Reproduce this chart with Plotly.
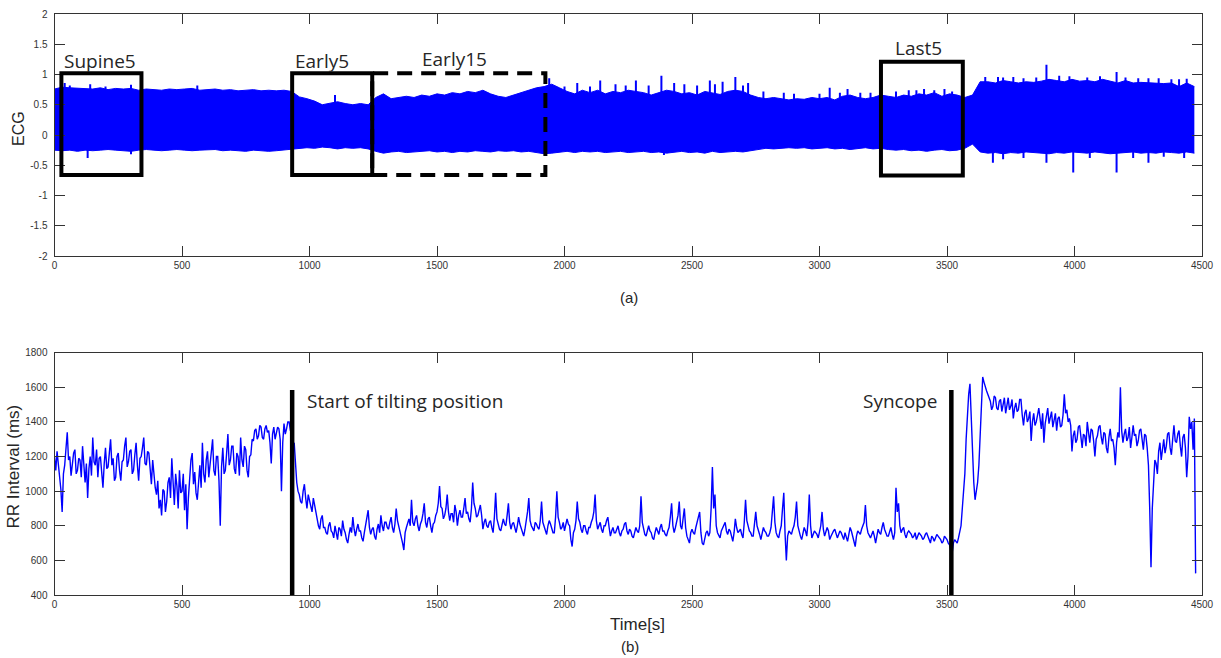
import plotly.graph_objects as go

# ---------------------------------------------------------------------------
# ECG trace (panel a): amplitude envelope sampled every 30 s
# ---------------------------------------------------------------------------
ECG_T_STEP = 30
ECG_UPPER = [
    0.76, 0.79, 0.78, 0.77, 0.76, 0.76, 0.78, 0.75, 0.77, 0.76,
    0.77, 0.74, 0.76, 0.75, 0.74, 0.76, 0.75, 0.76, 0.77, 0.74,
    0.75, 0.76, 0.74, 0.75, 0.73, 0.74, 0.75, 0.73, 0.74, 0.73,
    0.74, 0.72, 0.63, 0.60, 0.56, 0.50, 0.53, 0.55, 0.52, 0.50,
    0.52, 0.50, 0.62, 0.68, 0.60, 0.62, 0.64, 0.62, 0.66, 0.64,
    0.68, 0.66, 0.70, 0.68, 0.72, 0.70, 0.74, 0.68, 0.64, 0.62,
    0.66, 0.70, 0.74, 0.78, 0.80, 0.84, 0.78, 0.72, 0.68, 0.74,
    0.70, 0.74, 0.68, 0.72, 0.70, 0.74, 0.72, 0.70, 0.66, 0.70,
    0.74, 0.72, 0.68, 0.70, 0.66, 0.72, 0.70, 0.67, 0.72, 0.74,
    0.72, 0.66, 0.62, 0.60, 0.62, 0.60, 0.58, 0.60, 0.59, 0.62,
    0.60, 0.62, 0.58, 0.64, 0.66, 0.62, 0.60, 0.62, 0.66, 0.64,
    0.62, 0.66, 0.64, 0.68, 0.66, 0.70, 0.64, 0.68, 0.66, 0.62,
    0.66, 0.88, 0.88, 0.86, 0.90, 0.88, 0.86, 0.88, 0.87, 0.89,
    0.92, 0.90, 0.88, 0.92, 0.89, 0.90, 0.88, 0.92, 0.89, 0.86,
    0.90, 0.86, 0.87, 0.86, 0.86, 0.85, 0.86, 0.80, 0.86, 0.80,
]
ECG_LOWER = [
    -0.25, -0.26, -0.25, -0.27, -0.25, -0.26, -0.25, -0.24, -0.25, -0.26,
    -0.27, -0.25, -0.24, -0.25, -0.26, -0.25, -0.24, -0.25, -0.26, -0.25,
    -0.25, -0.24, -0.26, -0.25, -0.26, -0.27, -0.25, -0.26, -0.27, -0.26,
    -0.25, -0.24, -0.22, -0.21, -0.22, -0.20, -0.21, -0.23, -0.21, -0.22,
    -0.21, -0.23, -0.27, -0.30, -0.28, -0.27, -0.29, -0.28, -0.27, -0.26,
    -0.28, -0.27, -0.29, -0.27, -0.28, -0.26, -0.27, -0.28, -0.26, -0.27,
    -0.26, -0.28, -0.27, -0.29, -0.31, -0.30, -0.28, -0.27, -0.29, -0.27,
    -0.28, -0.27, -0.29, -0.28, -0.27, -0.29, -0.28, -0.27, -0.29, -0.28,
    -0.30, -0.28, -0.27, -0.29, -0.28, -0.30, -0.27, -0.29, -0.28, -0.27,
    -0.28, -0.26, -0.24, -0.22, -0.23, -0.22, -0.21, -0.22, -0.21, -0.23,
    -0.22, -0.21, -0.23, -0.22, -0.24, -0.22, -0.21, -0.23, -0.22, -0.24,
    -0.25, -0.24, -0.26, -0.25, -0.27, -0.25, -0.24, -0.26, -0.25, -0.22,
    -0.15, -0.28, -0.30, -0.29, -0.31, -0.29, -0.30, -0.28, -0.29, -0.30,
    -0.31, -0.29, -0.30, -0.28, -0.29, -0.30, -0.28, -0.29, -0.31, -0.30,
    -0.29, -0.28, -0.30, -0.29, -0.30, -0.28, -0.29, -0.30, -0.28, -0.30,
]
# isolated beats reaching past the envelope: time (s) and peak amplitude
ECG_SPIKE_T = [40, 60, 140, 200, 300, 560, 1100, 1940, 2000, 2050, 2100, 2140,
               2200, 2240, 2280, 2330, 2380, 2430, 2470, 2520, 2570, 2590,
               2620, 2670, 2700, 2720, 2780, 2860, 2900, 3000, 3040, 3080,
               3110, 3160, 3200, 3300, 3350, 3380, 3410, 3450, 3490, 3520,
               3650, 3700, 3720, 3760, 3800, 3850, 3890, 3940, 3980, 4050,
               4100, 4165, 4200, 4250, 4290, 4330, 4380, 4410, 4440,
               130, 300, 932, 2390, 3680, 3720, 3800, 3890, 3995, 4060,
               4165, 4230, 4290, 4350, 4430]
ECG_SPIKE_V = [0.86, 0.82, 0.84, 0.80, 0.83, 0.82, 0.66, 0.94, 0.80, 0.86, 0.80, 0.90,
               0.84, 0.82, 0.90, 0.82, 0.98, 0.86, 0.84, 0.82, 0.90, 0.84,
               0.88, 0.96, 0.82, 0.86, 0.72, 0.70, 0.68, 0.68, 0.78, 0.70,
               0.76, 0.70, 0.70, 0.72, 0.74, 0.74, 0.76, 0.74, 0.76, 0.72,
               0.96, 0.96, 0.95, 0.96, 0.94, 0.95, 1.16, 0.98, 0.97, 0.95,
               0.97, 1.04, 0.95, 0.94, 0.94, 0.94, 0.92, 0.92, 0.93,
               -0.38, -0.32, -0.46, -0.33, -0.46, -0.40, -0.38, -0.46, -0.62, -0.38,
               -0.62, -0.38, -0.46, -0.36, -0.38]

# ---------------------------------------------------------------------------
# RR interval series (panel b), one value every 5 s
# ---------------------------------------------------------------------------
RR_T_STEP = 5
RR_MS = [
    1200, 1120, 1230, 1160, 1090, 1010, 880, 1100, 1150, 1250, 1340, 1180, 1200, 1090, 1150, 1220, 1240, 1100, 1120, 1190,
    1180, 1080, 1260, 1140, 1050, 1160, 960, 1130, 1200, 1090, 1310, 1170, 1150, 1240, 1080, 1190, 1200, 1110, 1020, 1160,
    1250, 1130, 1140, 1220, 1300, 1150, 1190, 1060, 1080, 1200, 1220, 1120, 1060, 1170, 1180, 1260, 1310, 1140, 1170, 1230,
    1240, 1100, 1120, 1210, 1280, 1150, 1060, 1190, 1200, 1250, 1310, 1160, 1150, 1230, 1220, 1130, 1040, 1180, 1090, 1020,
    980, 1060, 900, 950, 860, 1010, 1000, 880, 940, 1050, 1080, 960, 1190, 1020, 920, 1100, 1030, 900, 1120, 990,
    1000, 1100, 890, 1040, 780, 960, 1060, 1180, 1220, 1040, 1110, 990, 950, 1080, 1150, 1020, 1280, 1100, 1050, 1180,
    1230, 1080, 1160, 1250, 1300, 1120, 1090, 1200, 1200, 1060, 800, 1140, 1250, 1100, 1120, 1220, 1330, 1150, 1180, 1260,
    1260, 1130, 1100, 1220, 1200, 1090, 1310, 1180, 1140, 1260, 1240, 1120, 1080, 1200, 1210, 1300, 1290, 1350, 1360, 1300,
    1320, 1380, 1370, 1310, 1300, 1360, 1380, 1340, 1350, 1280, 1160, 1330, 1370, 1300, 1330, 1370, 1360, 1300, 1000, 1280,
    1390, 1330, 1360, 1400, 1400, 1350, 1340, 1260, 1280, 1150, 1050, 1000, 980, 940, 930, 1000, 1040, 960, 900, 980,
    950, 910, 880, 960, 920, 870, 830, 800, 780, 840, 860, 790, 790, 760, 750, 800, 820, 770, 760, 730,
    800, 760, 720, 790, 780, 740, 830, 780, 760, 720, 700, 750, 790, 760, 850, 780, 740, 780, 810, 770,
    770, 730, 710, 760, 800, 840, 890, 790, 750, 780, 790, 740, 720, 780, 810, 760, 860, 800, 770, 820,
    820, 790, 780, 820, 850, 790, 760, 810, 900, 830, 800, 760, 740, 700, 660, 760, 790, 820, 840, 800,
    950, 820, 800, 840, 860, 800, 770, 810, 830, 870, 930, 820, 790, 840, 850, 800, 760, 810, 820, 860,
    880, 930, 1030, 910, 900, 840, 860, 900, 980, 880, 830, 870, 870, 820, 920, 880, 800, 860, 890, 850,
    850, 900, 960, 870, 880, 840, 820, 900, 1050, 930, 900, 850, 860, 890, 920, 860, 780, 820, 840, 800,
    790, 820, 830, 790, 760, 850, 990, 840, 810, 780, 770, 800, 840, 810, 800, 860, 930, 820, 780, 810,
    820, 790, 760, 800, 850, 810, 790, 760, 740, 780, 830, 880, 960, 830, 800, 780, 770, 820, 810, 790,
    780, 830, 940, 820, 800, 770, 750, 800, 830, 810, 790, 760, 760, 850, 1000, 850, 820, 780, 790, 820,
    770, 800, 840, 810, 800, 720, 680, 760, 780, 830, 940, 840, 820, 780, 760, 800, 800, 770, 750, 790,
    790, 820, 840, 880, 980, 830, 780, 800, 820, 780, 760, 800, 800, 830, 850, 790, 740, 770, 790, 760,
    760, 780, 800, 760, 740, 770, 780, 810, 820, 770, 750, 780, 770, 740, 730, 760, 790, 770, 760, 800,
    970, 820, 780, 750, 740, 770, 800, 770, 760, 730, 720, 760, 790, 770, 750, 790, 810, 770, 770, 750,
    740, 770, 790, 850, 930, 800, 760, 790, 820, 860, 940, 800, 780, 830, 900, 790, 740, 720, 700, 760,
    780, 760, 750, 790, 820, 860, 880, 760, 700, 690, 720, 760, 770, 740, 760, 900, 1140, 900, 980, 800,
    760, 740, 730, 770, 790, 810, 820, 770, 750, 780, 770, 740, 710, 760, 840, 790, 760, 770, 780, 750,
    730, 820, 950, 830, 800, 770, 760, 740, 740, 800, 880, 800, 780, 750, 720, 760, 790, 770, 760, 740,
    740, 760, 790, 880, 970, 820, 760, 740, 730, 770, 800, 900, 990, 750, 600, 740, 770, 760, 750, 780,
    800, 850, 940, 800, 760, 740, 720, 760, 790, 770, 740, 820, 980, 800, 730, 750, 770, 760, 750, 730,
    760, 800, 880, 780, 740, 760, 790, 770, 720, 740, 760, 770, 780, 750, 730, 750, 770, 760, 740, 720,
    760, 740, 710, 750, 790, 770, 740, 700, 680, 740, 770, 760, 750, 780, 800, 820, 920, 800, 760, 740,
    730, 750, 770, 740, 700, 740, 780, 760, 750, 790, 820, 780, 760, 740, 740, 770, 790, 750, 720, 760,
    1020, 880, 930, 800, 760, 780, 790, 750, 730, 760, 770, 760, 750, 730, 740, 760, 720, 740, 760, 750,
    740, 720, 730, 750, 760, 740, 720, 700, 740, 730, 710, 730, 750, 740, 730, 720, 700, 710, 740, 730,
    720, 700, 690, 660, 640, 700, 720, 710, 700, 730, 760, 800, 900, 1000, 1100, 1300, 1450, 1560, 1620, 1400,
    1200, 1050, 950, 1000, 1050, 1150, 1300, 1500, 1660, 1630, 1600, 1580, 1560, 1540, 1520, 1470, 1490, 1550, 1540, 1480,
    1470, 1520, 1530, 1460, 1500, 1540, 1450, 1510, 1540, 1470, 1490, 1530, 1420, 1480, 1510, 1460, 1470, 1530, 1530, 1440,
    1380, 1450, 1470, 1400, 1420, 1460, 1290, 1400, 1450, 1380, 1400, 1440, 1480, 1420, 1360, 1450, 1280, 1390, 1430, 1480,
    1390, 1440, 1460, 1370, 1410, 1450, 1350, 1420, 1430, 1370, 1380, 1440, 1560, 1450, 1470, 1400, 1420, 1380, 1230, 1320,
    1350, 1280, 1300, 1370, 1380, 1300, 1250, 1330, 1320, 1260, 1400, 1340, 1280, 1360, 1350, 1290, 1200, 1300, 1320, 1370,
    1380, 1310, 1270, 1340, 1330, 1250, 1220, 1310, 1360, 1290, 1300, 1250, 1150, 1280, 1340, 1310, 1600, 1350, 1280, 1330,
    1360, 1290, 1310, 1370, 1250, 1310, 1380, 1320, 1330, 1260, 1290, 1350, 1360, 1300, 1240, 1330, 1320, 1250, 1150, 900,
    560, 900, 1050, 1180, 1160, 1100, 1230, 1280, 1180, 1250, 1300, 1220, 1260, 1330, 1340, 1250, 1210, 1300, 1380, 1290,
    1280, 1330, 1350, 1260, 1200, 1310, 1330, 1250, 1080, 1200, 1430, 1360, 1400, 1240, 1420, 525,
]

# analysis windows marked on the ECG
WIN_NAMES = ["Supine5", "Early5", "Early15", "Last5"]
WIN_START = [27, 932, 1246, 3241]
WIN_END = [341, 1246, 1925, 3562]
WIN_TOP = [1.02, 1.02, 1.02, 1.21]
WIN_BOTTOM = [-0.66, -0.66, -0.66, -0.67]
WIN_DASHED = [False, False, True, False]

# events marked on the RR series
EVENT_NAMES = ["Start of tilting position", "Syncope"]
EVENT_T = [932, 3517]
EVENT_TOP = 1585

X_TICKS = list(range(0, 4501, 500))
ECG_TICKS = [-2, -1.5, -1, -0.5, 0, 0.5, 1, 1.5, 2]
RR_TICKS = list(range(400, 1801, 200))

BLUE = "#0000ff"
AXIS_COLOR = "#333333"
TICK_FONT = dict(family="Liberation Sans, Arial, sans-serif", size=10, color="#333333")
LABEL_FONT = dict(family="Open Sans, sans-serif", size=19, color="#262626")
TITLE_FONT = dict(family="Liberation Sans, Arial, sans-serif", size=16, color="#262626")

W, H = 1221, 658
X_DOM = [54.5 / W, 1202 / W]
Y1_DOM = [1 - 256 / H, 1 - 14 / H]
Y2_DOM = [1 - 595 / H, 1 - 352.7 / H]

ecg_t = [i * ECG_T_STEP for i in range(len(ECG_UPPER))]
rr_t = [i * RR_T_STEP for i in range(len(RR_MS))]

fig = go.Figure()

# ECG band: lower edge, then upper edge filled down to it
fig.add_trace(go.Scatter(x=ecg_t, y=ECG_LOWER, mode="lines",
                         line=dict(color=BLUE, width=1),
                         xaxis="x", yaxis="y", hoverinfo="skip", showlegend=False))
fig.add_trace(go.Scatter(x=ecg_t, y=ECG_UPPER, mode="lines", fill="tonexty",
                         fillcolor=BLUE, line=dict(color=BLUE, width=1),
                         xaxis="x", yaxis="y", hoverinfo="skip", showlegend=False))
sx, sy = [], []
for t, v in zip(ECG_SPIKE_T, ECG_SPIKE_V):
    sx += [t, t, None]
    sy += [0, v, None]
fig.add_trace(go.Scatter(x=sx, y=sy, mode="lines", line=dict(color=BLUE, width=2),
                         xaxis="x", yaxis="y", hoverinfo="skip", showlegend=False))

# RR interval line
fig.add_trace(go.Scatter(x=rr_t, y=RR_MS, mode="lines",
                         line=dict(color=BLUE, width=1.4),
                         xaxis="x2", yaxis="y2", showlegend=False))

shapes = []
annotations = []
for name, x0, x1, top, bot, dashed in zip(WIN_NAMES, WIN_START, WIN_END,
                                          WIN_TOP, WIN_BOTTOM, WIN_DASHED):
    shapes.append(dict(type="rect", xref="x", yref="y", x0=x0, x1=x1, y0=bot, y1=top,
                       line=dict(color="black", width=4,
                                 dash="15px,9px" if dashed else "solid")))

label_pos = {"Supine5": (100, 61), "Early5": (322, 61),
             "Early15": (454, 59), "Last5": (919, 48)}
for name in WIN_NAMES:
    px, py = label_pos[name]
    annotations.append(dict(text=name, x=px / W, y=1 - py / H, xref="paper", yref="paper",
                            showarrow=False, xanchor="center", yanchor="middle",
                            font=LABEL_FONT))

for name, t in zip(EVENT_NAMES, EVENT_T):
    shapes.append(dict(type="line", xref="x2", yref="y2", x0=t, x1=t, y0=400, y1=EVENT_TOP,
                       line=dict(color="black", width=4.5)))
annotations.append(dict(text=EVENT_NAMES[0], x=305 / W, y=1 - 401 / H, xref="paper",
                        yref="paper", showarrow=False, xanchor="left", yanchor="middle",
                        font=LABEL_FONT))
annotations.append(dict(text=EVENT_NAMES[1], x=939 / W, y=1 - 401 / H, xref="paper",
                        yref="paper", showarrow=False, xanchor="right", yanchor="middle",
                        font=LABEL_FONT))

# axis titles and panel captions
annotations += [
    dict(text="ECG", x=18 / W, y=1 - 129 / H, textangle=-90, font=TITLE_FONT),
    dict(text="RR Interval (ms)", x=12.5 / W, y=1 - 467 / H, textangle=-90,
         font=dict(TITLE_FONT, size=17)),
    dict(text="(a)", x=629 / W, y=1 - 297 / H, font=dict(TITLE_FONT, size=15)),
    dict(text="Time[s]", x=637 / W, y=1 - 624 / H, font=dict(TITLE_FONT, size=17)),
    dict(text="(b)", x=630 / W, y=1 - 646 / H, font=dict(TITLE_FONT, size=15)),
]
for a in annotations[-5:]:
    a.update(xref="paper", yref="paper", showarrow=False,
             xanchor="center", yanchor="middle")


def fmt(v):
    return str(int(v)) if float(v).is_integer() else str(v)


axis_common = dict(showline=True, linecolor=AXIS_COLOR, linewidth=1, mirror="ticks",
                   ticks="inside", ticklen=10, tickcolor=AXIS_COLOR, tickwidth=1,
                   showgrid=False, zeroline=False, tickfont=TICK_FONT, automargin=False)

fig.update_layout(
    width=W, height=H,
    margin=dict(l=0, r=0, t=0, b=0, pad=0),
    paper_bgcolor="white", plot_bgcolor="white",
    showlegend=False,
    xaxis=dict(axis_common, domain=X_DOM, anchor="y", range=[0, 4500],
               tickvals=X_TICKS, ticktext=[str(v) for v in X_TICKS]),
    yaxis=dict(axis_common, domain=Y1_DOM, anchor="x", range=[-2, 2],
               tickvals=ECG_TICKS, ticktext=[fmt(v) for v in ECG_TICKS],
               ticklabelstandoff=4),
    xaxis2=dict(axis_common, domain=X_DOM, anchor="y2", range=[0, 4500],
                tickvals=X_TICKS, ticktext=[str(v) for v in X_TICKS]),
    yaxis2=dict(axis_common, domain=Y2_DOM, anchor="x2", range=[400, 1800],
                tickvals=RR_TICKS, ticktext=[str(v) for v in RR_TICKS],
                ticklabelstandoff=4),
    shapes=shapes,
    annotations=annotations,
)

fig.write_html("out.html")
